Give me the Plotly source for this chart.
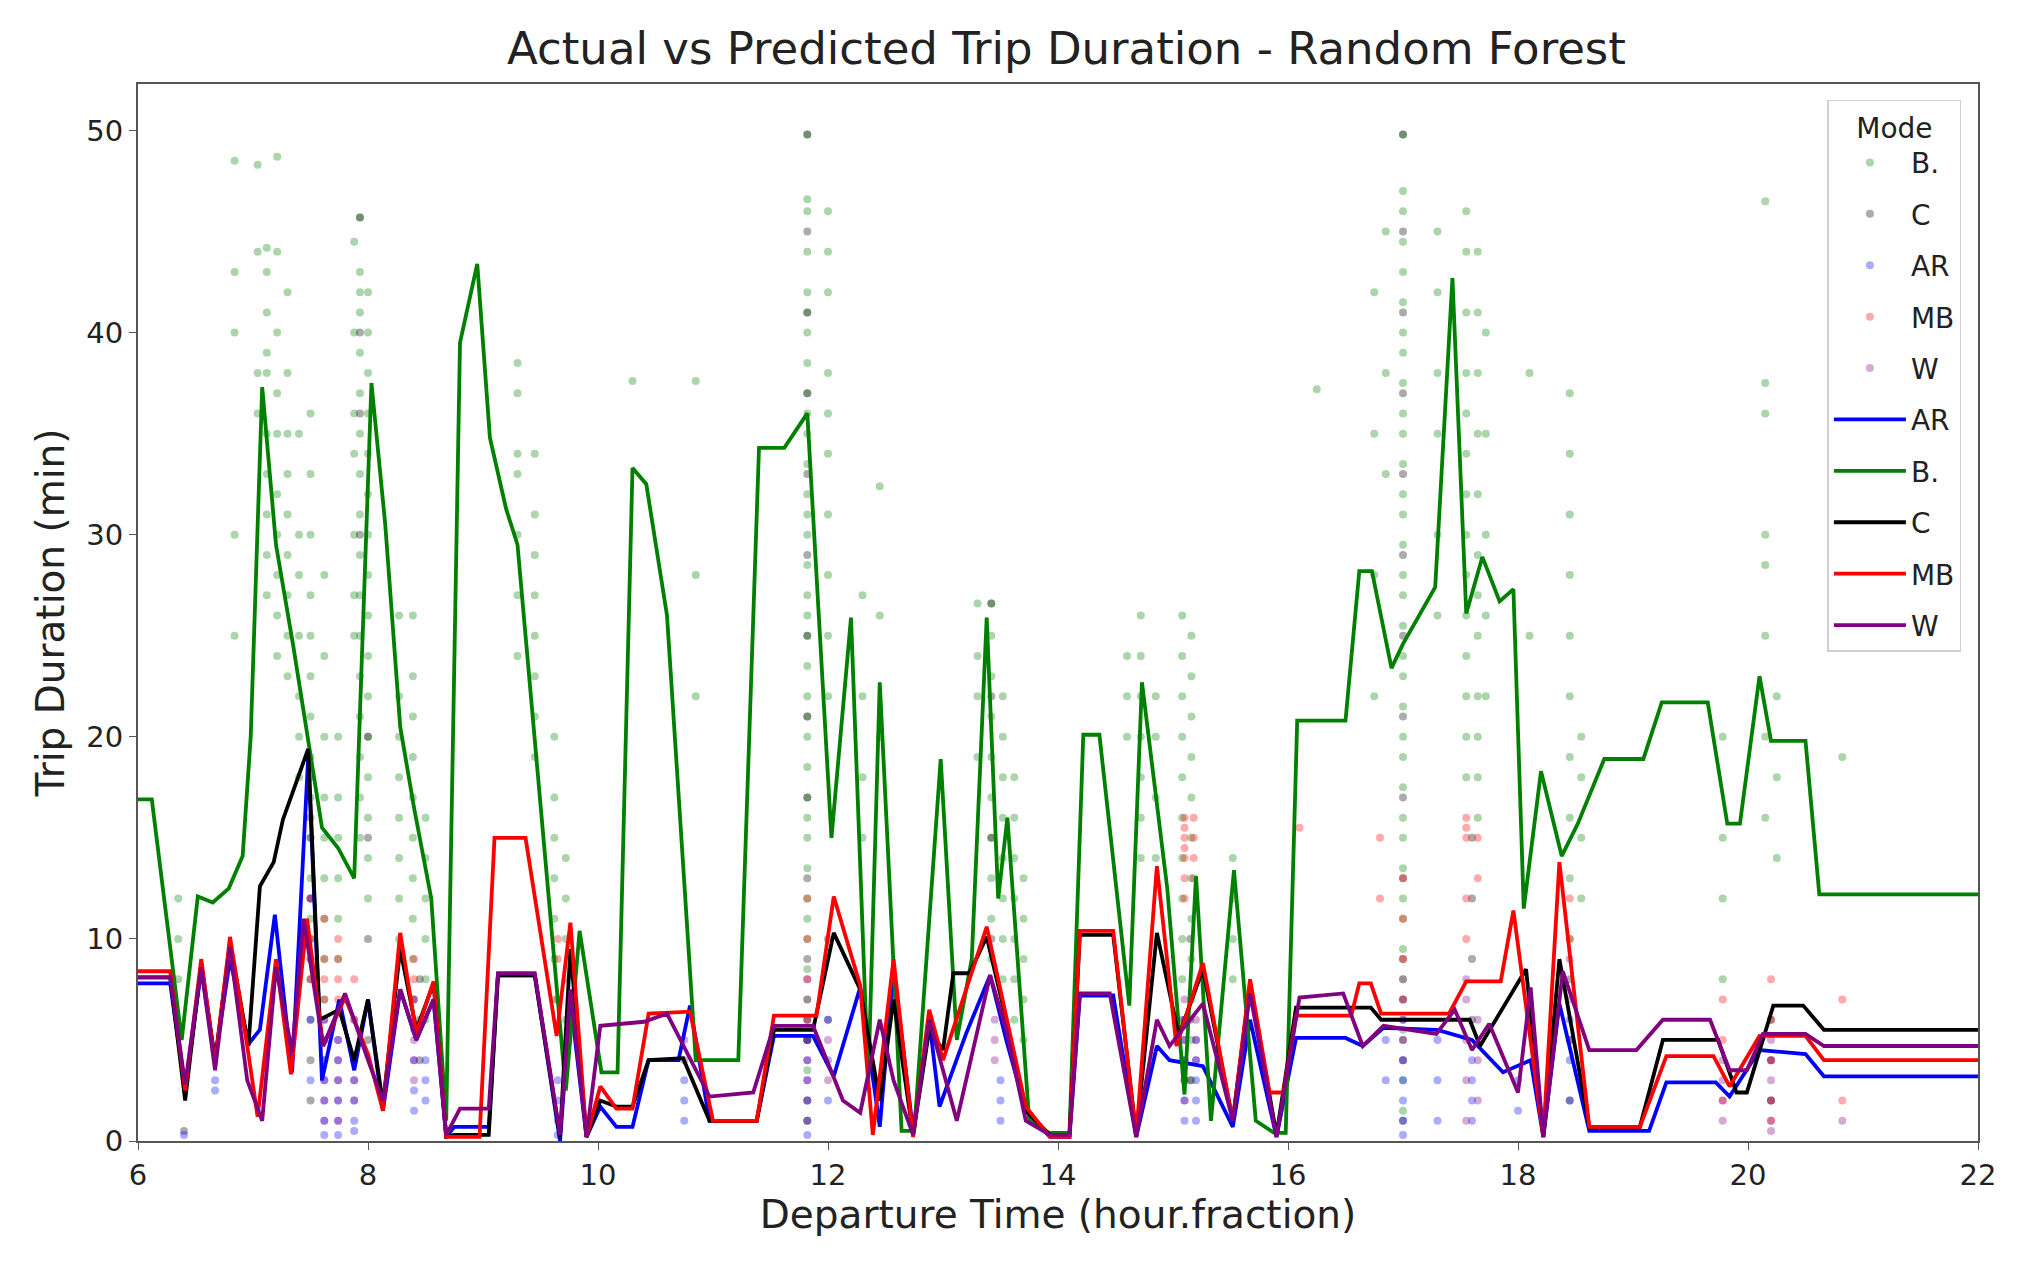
import plotly.graph_objects as go

# predicted trip duration per mode (line traces)
ar_x = [6.0, 6.28, 6.41, 6.55, 6.67, 6.8, 6.96, 7.06, 7.19, 7.34, 7.48, 7.6, 7.75, 7.88, 8.0, 8.13, 8.28, 8.42, 8.57, 8.68,
        8.75, 9.05, 9.13, 9.45, 9.67, 9.76, 9.9, 10.02, 10.16, 10.3, 10.44, 10.7, 10.8, 10.97, 11.38, 11.53, 11.87, 12.05, 12.28, 12.45,
        12.57, 12.74, 12.88, 12.97, 13.2, 13.41, 13.55, 13.72, 13.93, 14.1, 14.19, 14.48, 14.68, 14.86, 14.97, 15.26, 15.52, 15.67, 15.9, 16.07,
        16.5, 16.65, 16.83, 17.3, 17.6, 17.87, 18.11, 18.22, 18.36, 18.62, 19.14, 19.29, 19.72, 19.84, 20.1, 20.5, 20.66, 22.0]
ar_y = [7.8, 7.8, 2.5, 8.5, 4.0, 9.0, 4.8, 5.5, 11.2, 3.4, 19.0, 3.0, 7.0, 3.5, 7.0, 1.5, 7.5, 5.0, 7.0, 0.2,
        0.7, 0.7, 8.2, 8.2, 0.0, 7.0, 0.2, 1.7, 0.7, 0.7, 4.0, 4.0, 6.7, 1.0, 1.0, 5.2, 5.2, 3.2, 7.6, 0.7,
        8.5, 0.5, 6.0, 1.7, 5.3, 8.2, 5.0, 1.5, 0.2, 0.2, 7.2, 7.2, 0.2, 4.7, 4.0, 3.7, 0.7, 6.0, 0.2, 5.1,
        5.1, 4.7, 5.6, 5.5, 5.0, 3.4, 4.0, 0.2, 6.8, 0.5, 0.5, 2.9, 2.9, 2.2, 4.5, 4.3, 3.2, 3.2]

b_x = [6.0, 6.12, 6.38, 6.52, 6.65, 6.79, 6.91, 6.98, 7.08, 7.2, 7.35, 7.47, 7.6, 7.74, 7.88, 8.03, 8.15, 8.28, 8.4, 8.55,
       8.68, 8.8, 8.95, 9.06, 9.2, 9.3, 9.45, 9.72, 9.84, 10.03, 10.17, 10.3, 10.42, 10.6, 10.85, 11.22, 11.4, 11.62, 11.82, 12.03,
       12.2, 12.35, 12.45, 12.64, 12.75, 12.98, 13.12, 13.25, 13.38, 13.48, 13.56, 13.75, 13.92, 14.1, 14.22, 14.36, 14.62, 14.73, 14.95, 15.1,
       15.2, 15.33, 15.53, 15.72, 15.88, 15.98, 16.08, 16.5, 16.62, 16.73, 16.9, 17.0, 17.28, 17.43, 17.55, 17.69, 17.84, 17.96, 18.05, 18.2,
       18.38, 18.52, 18.75, 19.09, 19.25, 19.65, 19.82, 19.93, 20.1, 20.2, 20.5, 20.62, 22.0]
b_y = [16.9, 16.9, 5.0, 12.1, 11.8, 12.5, 14.1, 20.0, 37.3, 29.5, 24.5, 20.2, 15.5, 14.5, 13.0, 37.5, 30.5, 20.5, 16.5, 12.0,
       1.0, 39.5, 43.4, 34.8, 31.3, 29.5, 20.0, 2.5, 10.4, 3.4, 3.4, 33.3, 32.5, 26.0, 4.0, 4.0, 34.3, 34.3, 36.0, 15.0,
       25.9, 2.9, 22.7, 0.5, 0.5, 18.9, 5.0, 9.0, 25.9, 12.0, 16.0, 1.0, 0.4, 0.4, 20.1, 20.1, 6.7, 22.7, 12.5, 2.3,
       13.1, 1.0, 13.4, 1.0, 0.4, 0.4, 20.8, 20.8, 28.2, 28.2, 23.4, 24.6, 27.4, 42.7, 26.1, 28.9, 26.7, 27.3, 11.5, 18.3,
       14.1, 15.7, 18.9, 18.9, 21.7, 21.7, 15.7, 15.7, 23.0, 19.8, 19.8, 12.2, 12.2]

c_x = [6.0, 6.28, 6.41, 6.55, 6.67, 6.8, 6.96, 7.06, 7.18, 7.26, 7.48, 7.58, 7.75, 7.88, 8.0, 8.13, 8.28, 8.42, 8.57, 8.68,
       8.75, 9.05, 9.13, 9.45, 9.67, 9.76, 9.9, 10.02, 10.16, 10.3, 10.44, 10.74, 10.97, 11.38, 11.53, 11.87, 12.05, 12.28, 12.45, 12.57,
       12.74, 12.88, 13.0, 13.09, 13.23, 13.38, 13.55, 13.72, 13.93, 14.1, 14.19, 14.48, 14.68, 14.86, 15.05, 15.26, 15.52, 15.67, 15.9, 16.07,
       16.72, 16.81, 17.58, 17.67, 18.07, 18.22, 18.36, 18.62, 19.06, 19.26, 19.74, 19.9, 19.99, 20.22, 20.48, 20.66, 22.0]
c_y = [8.1, 8.1, 2.0, 8.8, 4.0, 9.8, 4.7, 12.6, 13.8, 15.9, 19.4, 6.0, 6.5, 4.0, 7.0, 1.8, 9.5, 5.5, 7.8, 0.2,
       0.3, 0.3, 8.2, 8.2, 0.2, 9.5, 0.2, 2.0, 1.7, 1.7, 4.0, 4.1, 1.0, 1.0, 5.5, 5.5, 10.3, 7.5, 2.0, 7.0,
       0.3, 5.5, 4.5, 8.3, 8.3, 10.1, 6.0, 1.5, 0.3, 0.3, 10.2, 10.2, 0.3, 10.3, 5.2, 8.5, 1.0, 7.8, 0.3, 6.6,
       6.6, 6.0, 6.0, 4.7, 8.5, 0.2, 9.0, 0.7, 0.7, 5.0, 5.0, 2.4, 2.4, 6.7, 6.7, 5.5, 5.5]

mb_x = [6.0, 6.28, 6.41, 6.55, 6.67, 6.8, 6.95, 7.04, 7.2, 7.33, 7.47, 7.61, 7.8, 8.0, 8.13, 8.28, 8.42, 8.57, 8.68, 8.97,
        9.1, 9.37, 9.64, 9.76, 9.9, 10.02, 10.16, 10.3, 10.44, 10.8, 11.0, 11.38, 11.53, 11.9, 12.05, 12.28, 12.39, 12.57, 12.74, 12.88,
        13.0, 13.38, 13.72, 13.93, 14.1, 14.19, 14.48, 14.68, 14.86, 15.03, 15.26, 15.52, 15.67, 15.84, 15.96, 16.07, 16.55, 16.62, 16.72, 16.81,
        17.4, 17.55, 17.85, 17.96, 18.22, 18.36, 18.62, 19.06, 19.29, 19.7, 19.84, 20.1, 20.5, 20.66, 22.0]
mb_y = [8.4, 8.4, 2.5, 9.0, 3.8, 10.1, 4.7, 1.2, 9.0, 3.3, 11.0, 4.7, 7.1, 4.3, 1.5, 10.3, 5.3, 7.9, 0.2, 0.2,
        15.0, 15.0, 5.2, 10.8, 0.2, 2.7, 1.6, 1.6, 6.3, 6.4, 1.0, 1.0, 6.2, 6.2, 12.1, 7.7, 0.3, 9.0, 0.2, 6.5,
        4.0, 10.6, 1.7, 0.2, 0.2, 10.4, 10.4, 0.2, 13.6, 4.7, 8.8, 1.0, 8.0, 2.4, 2.4, 6.2, 6.2, 7.8, 7.8, 6.3,
        6.3, 7.9, 7.9, 11.4, 0.2, 13.8, 0.7, 0.7, 4.2, 4.2, 2.7, 5.2, 5.2, 4.0, 4.0]

w_x = [6.0, 6.28, 6.41, 6.55, 6.67, 6.8, 6.95, 7.08, 7.2, 7.34, 7.44, 7.61, 7.8, 8.0, 8.13, 8.28, 8.42, 8.57, 8.68, 8.8,
       9.05, 9.13, 9.45, 9.67, 9.76, 9.9, 10.02, 10.4, 10.6, 10.97, 11.35, 11.53, 11.87, 12.13, 12.28, 12.45, 12.57, 12.74, 12.88, 13.12,
       13.41, 13.55, 13.72, 13.93, 14.1, 14.19, 14.45, 14.68, 14.86, 14.97, 15.26, 15.52, 15.67, 15.9, 16.1, 16.48, 16.65, 16.83, 17.29, 17.45,
       17.6, 17.75, 18.0, 18.11, 18.22, 18.39, 18.62, 19.03, 19.26, 19.67, 19.84, 19.99, 20.13, 20.5, 20.66, 22.0]
w_y = [8.1, 8.1, 2.8, 8.6, 3.5, 9.6, 3.0, 1.0, 8.6, 4.4, 11.0, 4.7, 7.3, 4.0, 2.0, 7.5, 5.0, 7.0, 0.3, 1.6,
       1.6, 8.3, 8.3, 0.3, 7.5, 0.2, 5.7, 5.9, 6.3, 2.2, 2.4, 5.7, 5.7, 2.0, 1.4, 6.0, 3.0, 0.3, 6.0, 1.0,
       8.2, 5.5, 1.0, 0.3, 0.3, 7.3, 7.3, 0.2, 6.0, 4.7, 6.8, 1.0, 7.3, 0.2, 7.1, 7.3, 4.7, 5.7, 5.3, 6.5,
       4.5, 5.8, 2.4, 7.6, 0.2, 8.4, 4.5, 4.5, 6.0, 6.0, 3.5, 3.5, 5.3, 5.3, 4.7, 4.7]

# actual trips: (departure time, [durations]) columns per mode
b_cols = [
    (6.35, [12, 10, 8]), (6.84, [48.5, 43, 40, 30, 25]), (7.04, [48.3, 44, 38, 36]),
    (7.12, [44.2, 43, 41, 39, 38, 35, 33, 31, 29, 27]), (7.21, [48.7, 44, 40, 37, 35, 32, 30, 28, 26, 24]),
    (7.3, [42, 38, 35, 33, 31, 29, 27, 25, 23]), (7.4, [35, 30, 28, 25, 22, 20, 18]),
    (7.5, [36, 33, 30, 27, 25, 23, 21, 19, 17, 15, 13, 11, 9]), (7.62, [28, 24, 20, 17, 15, 13, 11, 9, 7]),
    (7.74, [20, 17, 15, 13, 11, 9]), (7.88, [44.5, 40, 36, 34, 30, 27, 25]),
    (7.93, [45.7, 43, 42, 41, 39, 37, 35, 33, 31, 29, 27, 25, 23, 21, 19, 17, 15]),
    (8.0, [42, 40, 38, 36, 34, 32, 30, 28, 26, 24, 22, 20, 18, 16, 14, 12]),
    (8.27, [26, 22, 20, 18, 16, 14, 12, 10]), (8.39, [26, 23, 21, 19, 17, 15, 13, 11, 9, 7]),
    (8.5, [16, 14, 12, 10, 8, 6]), (9.3, [38.5, 37, 34, 33, 30, 27, 24]),
    (9.45, [34, 31, 29, 27, 25, 23, 21, 19]), (9.62, [20, 17, 15, 13, 11, 9, 7]), (9.72, [14, 12, 10, 8, 6]),
    (10.3, [37.6]), (10.85, [37.6, 28, 22]),
    (11.82, [49.8, 46.6, 46, 44, 42, 41, 40, 38.5, 37, 36, 35, 33.5, 32, 31, 30, 28.5, 27, 26, 25, 23.5,
             22, 21, 20, 18.5, 17, 16, 15, 13.5, 12, 11, 10, 8.5, 7, 6, 5, 3.5, 2, 1]),
    (12.0, [46, 44, 42, 38, 36, 34, 31, 28, 25, 22]), (12.3, [27, 22, 18, 15]), (12.45, [32.4, 26, 20]),
    (13.3, [26.6, 24, 22, 19]), (13.42, [26.6, 25, 23, 21, 19, 17, 15, 13, 11, 9]),
    (13.52, [22, 20, 18, 16, 14, 12, 10, 8]), (13.62, [18, 16, 14, 12, 10, 8, 6]), (13.7, [13, 11, 9, 7, 5]),
    (14.6, [24, 22, 20]), (14.72, [26, 24, 22, 20, 18, 16, 14]), (14.85, [22, 20, 17, 14]),
    (15.08, [26, 24, 22, 20, 18, 16, 14, 12, 10, 8, 6, 4]), (15.16, [25, 23, 21, 19, 17, 15, 13, 11, 9, 7, 5, 3]),
    (15.52, [14, 12, 10, 8]), (16.25, [37.2]), (16.75, [42, 35, 28, 22]), (16.85, [45, 38, 33]),
    (17.0, [49.8, 47, 46, 44.5, 43, 41.5, 40, 39, 37.5, 36, 35, 33.5, 32, 31, 29.5, 28, 27, 25.5, 24, 23,
            21.5, 20, 19, 17.5, 16, 15, 13.5, 12, 11, 9.5, 8, 7, 5.5, 4, 3, 1.5]),
    (17.3, [45, 42, 38, 35, 30, 26]), (17.55, [46, 44, 41, 38, 36, 34, 32, 30, 28, 26, 24, 22, 20, 18]),
    (17.65, [44, 41, 38, 35, 32, 29, 27, 25, 22, 20, 18, 16]), (17.72, [40, 35, 30, 26, 22]),
    (18.1, [38, 25]), (18.45, [37, 34, 31, 28, 25, 22, 19, 16, 13, 10]), (18.55, [20, 18, 15, 12]),
    (19.78, [20, 15, 12, 8]), (20.15, [46.5, 37.5, 36, 30, 28.5, 25, 20, 16]), (20.25, [22, 18, 14]), (20.82, [19]),
]
c_cols = [
    (6.4, [0.5]), (7.5, [16, 12, 10, 8, 6, 4, 2]), (7.93, [45.7, 40, 36, 30]), (8.0, [20, 15, 10, 5]),
    (8.45, [8, 6, 4]), (11.82, [49.8, 45, 41, 37, 33, 29, 25, 21, 17, 13, 9, 5]), (12.0, [10, 6]),
    (13.42, [26.6, 22, 15, 10]), (15.15, [10, 6, 3]), (17.0, [49.8, 45, 41, 37, 33, 29, 25, 21, 17, 13, 9, 5, 1]),
    (17.6, [15, 12, 9, 6]), (18.45, [8, 5, 2]), (20.2, [6, 4, 2]),
]
ar_cols = [
    (6.4, [0.3]), (6.67, [3, 2.5]), (7.5, [18, 15, 12, 9, 6, 3]), (7.62, [6, 5, 4, 3, 2, 1, 0.3]),
    (7.74, [5, 4, 3, 2, 1, 0.3]), (7.88, [6, 4, 3, 2, 1, 0.5]), (8.4, [7, 5.5, 4, 2.5, 1.5]), (8.5, [4, 3, 2]),
    (9.65, [3, 2, 1, 0.3]), (10.75, [3, 2, 1]), (11.82, [5, 4, 3, 2, 1, 0.3]), (12.0, [6, 4, 2]),
    (13.5, [3, 2, 1]), (15.1, [6, 5, 4, 3, 2, 1]), (15.2, [5, 4, 3, 2, 1]), (16.85, [5, 3]),
    (17.0, [6, 4, 3, 2, 1, 0.3]), (17.3, [5, 3, 1]), (17.6, [4, 3, 2, 1]), (18.0, [3, 1.5]), (18.45, [6, 4, 2]),
]
mb_cols = [
    (7.5, [12, 10, 8]), (7.62, [11, 9, 8, 7]), (7.74, [10, 9, 8, 7]), (7.88, [8, 6]), (8.4, [9, 8, 7]),
    (9.65, [10, 9, 7]), (11.82, [12, 10, 8, 6]), (15.1, [16, 15.5, 15, 14.5, 14, 13, 12]), (15.18, [16, 15, 14, 13]),
    (16.1, [15.5]), (16.8, [15, 12]), (17.0, [13, 11, 9, 7]), (17.55, [16, 15.5, 15, 12, 10]), (17.65, [15, 13]),
    (18.45, [12, 10]), (19.78, [7, 5, 2]), (20.2, [8, 6, 4, 2, 1]), (20.82, [7, 2]),
]
w_cols = [
    (7.62, [6, 5, 4, 3, 2, 1]), (7.74, [5, 4, 3, 2, 1]), (7.88, [4, 3, 2]), (8.4, [5, 4, 3]), (10.75, [5, 4]),
    (11.82, [8, 7, 6, 5, 4, 3, 2, 1]), (12.0, [5, 3]), (13.45, [6, 5, 4]), (15.1, [7, 6, 5, 4, 3, 2]),
    (15.2, [6, 5, 4]), (17.0, [8, 7, 6, 5, 4]), (17.55, [8, 7, 5, 3, 1]), (17.65, [6, 4, 2]), (18.45, [9, 7, 5]),
    (19.78, [4, 3, 2, 1]), (20.2, [5, 4, 3, 2, 1, 0.5]), (20.82, [1]),
]

modes = ["AR", "B.", "C", "MB", "W"]
colors = {"AR": "#0000ff", "B.": "#008000", "C": "#000000", "MB": "#ff0000", "W": "#800080"}
lines = {"AR": (ar_x, ar_y), "B.": (b_x, b_y), "C": (c_x, c_y), "MB": (mb_x, mb_y), "W": (w_x, w_y)}
actual = {"B.": b_cols, "C": c_cols, "AR": ar_cols, "MB": mb_cols, "W": w_cols}

fig = go.Figure()

for mode in ["B.", "C", "AR", "MB", "W"]:
    cols = actual[mode]
    xs = [t for t, vals in cols for v in vals]
    ys = [v for t, vals in cols for v in vals]
    fig.add_trace(go.Scatter(x=xs, y=ys, mode="markers", name=mode, legendgroup="s" + mode,
                             marker=dict(color=colors[mode], size=8, opacity=0.33, line=dict(width=0))))

for mode in modes:
    x, y = lines[mode]
    fig.add_trace(go.Scatter(x=x, y=y, mode="lines", name=mode, legendgroup="l" + mode,
                             line=dict(color=colors[mode], width=3.8)))

font = "DejaVu Sans, Verdana, sans-serif"
# the page body adds 8px around the figure, so margins are trimmed by that amount
fig.update_layout(
    width=2020, height=1271,
    margin=dict(l=130, r=50, t=76, b=138),
    paper_bgcolor="white", plot_bgcolor="white",
    font=dict(family=font, size=29, color="#222"),
    title=dict(text="Actual vs Predicted Trip Duration - Random Forest", x=0.524, xanchor="center",
               y=0.968, yanchor="middle", font=dict(size=45, color="#222")),
    legend=dict(title=dict(text="Mode", side="top center", font=dict(size=28)), x=0.991, y=0.985,
                xanchor="right", yanchor="top", bordercolor="#d0d0d0", borderwidth=1.5,
                bgcolor="rgba(255,255,255,0.85)", font=dict(size=28), tracegroupgap=12, itemwidth=72),
    showlegend=True,
)
fig.update_xaxes(range=[6, 22], tickvals=[6, 8, 10, 12, 14, 16, 18, 20, 22], showgrid=False, zeroline=False,
                 showline=True, mirror=True, linecolor="#555", linewidth=2, ticks="outside", ticklen=7,
                 tickcolor="#555", automargin=False,
                 title=dict(text="Departure Time (hour.fraction)", font=dict(size=39), standoff=8))
fig.update_yaxes(range=[0, 52.3], tickvals=[0, 10, 20, 30, 40, 50], showgrid=False, zeroline=False,
                 showline=True, mirror=True, linecolor="#555", linewidth=2, ticks="outside", ticklen=7,
                 tickcolor="#555", automargin=False,
                 title=dict(text="Trip Duration (min)", font=dict(size=39), standoff=10))

fig.write_html("out.html")
